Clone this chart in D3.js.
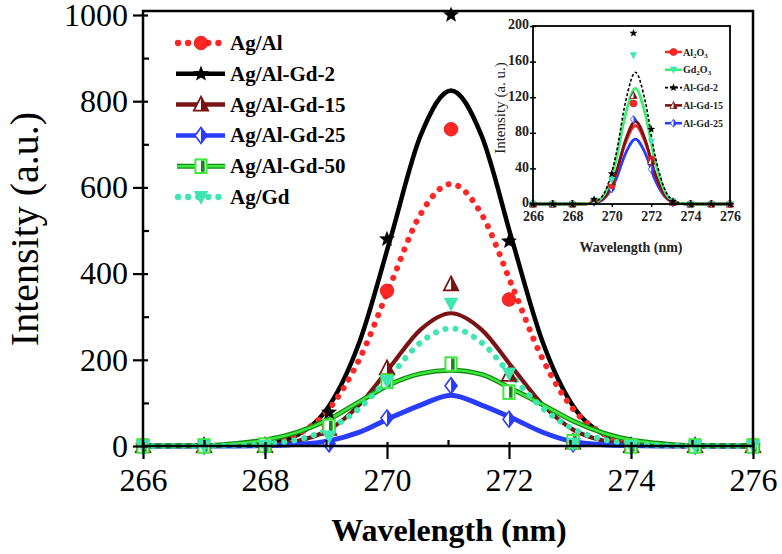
<!DOCTYPE html>
<html><head><meta charset="utf-8">
<script src="https://cdn.jsdelivr.net/npm/d3@7"></script>
<style>body{margin:0;background:#fff} svg{display:block}</style>
</head><body><svg id="c" width="782" height="554"></svg>
<script>
// ---------- main chart data ----------
const seriesNames = ["Ag/Al", "Ag/Al-Gd-2", "Ag/Al-Gd-15", "Ag/Al-Gd-25", "Ag/Al-Gd-50", "Ag/Gd"];
const markerX = [266, 267, 268, 269.05, 270, 271.05, 272, 273.05, 274, 275.05, 276];
const agAlPts   = [0, 0, 0, 45, 360, 735, 340, 12, 0, 0, 0];
const gd2Pts    = [0, 0, 0, 78, 480, 1000, 475, 12, 0, 0, 0];
const gd15Pts   = [0, 0, 0, 40, 180, 375, 165, 8, 0, 0, 0];
const gd25Pts   = [0, 0, 0, 5, 65, 140, 62, 5, 0, 0, 0];
const gd50Pts   = [0, 0, 2, 45, 150, 190, 125, 10, 0, 0, 0];
const agGdPts   = [0, 0, 0, 22, 150, 330, 168, 5, 0, 0, 0];

const curveX    = [266, 267, 267.55, 268.05, 268.55, 269.05, 269.55, 270.05, 270.55, 271.05, 271.55, 272.05, 272.55, 273.05, 273.55, 274.05, 274.55, 275, 276];
const agAlFit   = [0, 0, 1.5, 7, 28, 86, 202, 372, 538, 608, 538, 372, 202, 86, 28, 7, 1.5, 0, 0];
const gd2Fit    = [0, 0, 1, 6, 27, 93, 242, 478, 720, 825, 720, 478, 242, 93, 27, 6, 1, 0, 0];
const gd15Fit   = [0, 0, 0.6, 3, 12, 38, 96, 183, 270, 308, 270, 183, 96, 38, 12, 3, 0.6, 0, 0];
const gd25Fit   = [0, 0, 0, 1, 4, 12, 32, 65, 95, 118, 95, 65, 32, 10, 3, 1, 0, 0, 0];
const gd50Fit   = [0, 1, 6, 15, 33, 62, 103, 143, 168, 176, 166, 132, 96, 58, 30, 13, 5, 1, 0];
const agGdFit   = [0, 0, 1, 5, 15, 40, 88, 162, 240, 273, 240, 162, 88, 40, 15, 5, 1, 0, 0];

const xTicks = [266, 268, 270, 272, 274, 276];
const xMinor = [267, 269, 271, 273, 275];
const yTicks = [0, 200, 400, 600, 800, 1000];
const yMinor = [100, 300, 500, 700, 900];

// ---------- inset data ----------
const insetNames = ["Al2O3", "Gd2O3", "Al-Gd-2", "Al-Gd-15", "Al-Gd-25"];
const insetMarkerX = [266, 267, 268, 269.1, 270, 271.1, 272, 273.1, 274, 275.05, 276];
const al2o3Pts  = [0, 0, 0, 3, 21, 113, 50, 2, 0, 0, 0];
const gd2o3Pts  = [0, 0, 0, 4, 27, 167, 70, 3, 0, 0, 0];
const alGd2Pts  = [0, 0, 0, 5, 34, 192, 84, 3, 0, 0, 0];
const alGd15Pts = [0, 0, 0, 3, 25, 122, 48, 2, 0, 0, 0];
const alGd25Pts = [0, 0, 0, 2, 17, 95, 39, 1, 0, 0, 0];
const insetCurveX = [266, 267, 268, 268.7, 269.2, 269.7, 270.2, 270.7, 271.2, 271.7, 272.2, 272.7, 273.2, 273.7, 274.2, 275, 276];
const al2o3Fit  = [0, 0, 0, 0.2, 2, 9, 33, 69, 88, 69, 33, 9, 2, 0.2, 0, 0, 0];
const gd2o3Fit  = [0, 0, 0, 0.3, 2.5, 14, 48, 101, 130, 101, 48, 14, 2.5, 0.3, 0, 0, 0];
const alGd2Fit  = [0, 0, 0, 0.3, 3, 16, 54, 115, 148, 115, 54, 16, 3, 0.3, 0, 0, 0];
const alGd15Fit = [0, 0, 0, 0.2, 2, 10, 34, 72, 93, 72, 34, 10, 2, 0.2, 0, 0, 0];
const alGd25Fit = [0, 0, 0, 0.2, 1.5, 8, 27, 57, 73, 57, 27, 8, 1.5, 0.2, 0, 0, 0];
const insetXTicks = [266, 268, 270, 272, 274, 276];
const insetYTicks = [0, 40, 80, 120, 160, 200];

// ---------- styles ----------
const RED = "#ff2626", BLACK = "#000", DRED = "#7a1414", BLUE = "#2a3cff", GREEN = "#3fe83f", DGREEN = "#138a13", TEAL = "#3ee6b0";
const SERIF = "'Liberation Serif','Times New Roman',serif";

const svg = d3.select("#c");

function starPath(R, r) {
  const p = [];
  for (let i = 0; i < 10; i++) {
    const a = -Math.PI / 2 + i * Math.PI / 5;
    const rr = i % 2 === 0 ? R : r;
    p.push([rr * Math.cos(a), rr * Math.sin(a)]);
  }
  return "M" + p.map(q => q[0].toFixed(2) + "," + q[1].toFixed(2)).join("L") + "Z";
}

function marker(g, type, cx, cy, s, col) {
  const m = g.append("g").attr("transform", `translate(${cx},${cy})`);
  if (type === "circle") {
    m.append("circle").attr("r", s * 0.85).attr("fill", col).attr("stroke", "#e01010").attr("stroke-width", 0.8);
  } else if (type === "star") {
    m.append("path").attr("d", starPath(s * 1.05, s * 0.45)).attr("fill", col);
  } else if (type === "triUp") {
    m.append("path").attr("d", `M0,${-s}L${s * 0.9},${s * 0.75}L${-s * 0.9},${s * 0.75}Z`).attr("fill", "#fff").attr("stroke", col).attr("stroke-width", s * 0.22);
    m.append("path").attr("d", `M0,${-s}L${s * 0.9},${s * 0.75}L0,${s * 0.75}Z`).attr("fill", col);
  } else if (type === "diamond") {
    m.append("path").attr("d", `M0,${-s}L${s * 0.75},0L0,${s}L${-s * 0.75},0Z`).attr("fill", "#fff").attr("stroke", col).attr("stroke-width", s * 0.2);
    m.append("path").attr("d", `M0,${-s}L${s * 0.75},0L0,${s}Z`).attr("fill", col);
  } else if (type === "square") {
    m.append("rect").attr("x", -s * 0.7).attr("y", -s * 0.85).attr("width", s * 1.4).attr("height", s * 1.7).attr("fill", "#fff").attr("stroke", GREEN).attr("stroke-width", s * 0.25);
    m.append("rect").attr("x", 0).attr("y", -s * 0.7).attr("width", s * 0.45).attr("height", s * 1.4).attr("fill", DGREEN);
  } else if (type === "triDown") {
    m.append("path").attr("d", `M${-s * 0.9},${-s * 0.75}L${s * 0.9},${-s * 0.75}L0,${s}Z`).attr("fill", col);
  }
}

// ---------- main chart ----------
const x = d3.scaleLinear().domain([266, 276]).range([143, 753]);
const y = d3.scaleLinear().domain([0, 1000]).range([446, 15]);

const mainSeries = [
  { name: seriesNames[1], pts: gd2Pts, fit: gd2Fit, col: BLACK, mk: "star" },
  { name: seriesNames[0], pts: agAlPts, fit: agAlFit, col: RED, mk: "circle", dotted: true },
  { name: seriesNames[2], pts: gd15Pts, fit: gd15Fit, col: DRED, mk: "triUp" },
  { name: seriesNames[3], pts: gd25Pts, fit: gd25Fit, col: BLUE, mk: "diamond" },
  { name: seriesNames[4], pts: gd50Pts, fit: gd50Fit, col: GREEN, mk: "square", double: true },
  { name: seriesNames[5], pts: agGdPts, fit: agGdFit, col: TEAL, mk: "triDown", dotted: true }
];

const line = d3.line().x(d => x(d[0])).y(d => y(d[1])).curve(d3.curveMonotoneX);
const plot = svg.append("g");

function styleLine(p, s, w) {
  if (s.dotted) {
    p.attr("stroke", s.col).attr("stroke-width", w + 1.8).attr("stroke-linecap", "round").attr("stroke-dasharray", "0.1,10");
  } else {
    p.attr("stroke", s.col).attr("stroke-width", w);
  }
}

mainSeries.forEach(s => {
  const data = curveX.map((v, i) => [v, s.fit[i]]);
  if (s.double) {
    plot.append("path").datum(data).attr("d", line).attr("fill", "none").attr("stroke", DGREEN).attr("stroke-width", 5);
    plot.append("path").datum(data).attr("d", line).attr("fill", "none").attr("stroke", GREEN).attr("stroke-width", 2.4);
  } else {
    const p = plot.append("path").datum(data).attr("d", line).attr("fill", "none");
    styleLine(p, s, s.col === BLACK ? 4.5 : (s.col === BLUE ? 5 : 4.2));
  }
});

mainSeries.forEach(s => {
  markerX.forEach((v, i) => marker(plot, s.mk, x(v), y(s.pts[i]), 8, s.col));
});

// frame
svg.append("rect").attr("x", 143).attr("y", 11).attr("width", 610).attr("height", 435)
  .attr("fill", "none").attr("stroke", "#000").attr("stroke-width", 2.5);

// axes
const gy = svg.append("g").attr("transform", "translate(143,0)")
  .call(d3.axisLeft(y).tickValues(yTicks).tickSizeInner(10).tickSizeOuter(0).tickPadding(5).tickFormat(d3.format("d")));
const gyMinor = svg.append("g").attr("transform", "translate(143,0)")
  .call(d3.axisRight(y).tickValues(yMinor).tickSizeInner(6).tickSizeOuter(0).tickFormat(""));
const gyMaj2 = svg.append("g").attr("transform", "translate(143,0)")
  .call(d3.axisRight(y).tickValues(yTicks).tickSizeInner(5).tickSizeOuter(0).tickFormat(""));
const gx = svg.append("g").attr("transform", "translate(0,446)")
  .call(d3.axisBottom(x).tickValues(xTicks).tickSizeInner(13).tickSizeOuter(0).tickPadding(9).tickFormat(d3.format("d")));
const gxMinor = svg.append("g").attr("transform", "translate(0,446)")
  .call(d3.axisTop(x).tickValues(xMinor).tickSizeInner(6).tickSizeOuter(0).tickFormat(""));
const gxMaj2 = svg.append("g").attr("transform", "translate(0,446)")
  .call(d3.axisTop(x).tickValues(xTicks).tickSizeInner(4).tickSizeOuter(0).tickFormat(""));
[gy, gyMinor, gyMaj2, gx, gxMinor, gxMaj2].forEach(g => {
  g.select(".domain").remove();
  g.selectAll("line").attr("stroke", "#000").attr("stroke-width", 2.2);
  g.selectAll("text").attr("font-family", SERIF).attr("font-size", 32).attr("fill", "#000");
});

// axis titles
svg.append("text").attr("transform", "translate(38,229) rotate(-90)").attr("text-anchor", "middle")
  .attr("font-family", SERIF).attr("font-size", 40).text("Intensity (a.u.)");
svg.append("text").attr("x", 449).attr("y", 541).attr("text-anchor", "middle")
  .attr("font-family", SERIF).attr("font-weight", "bold").attr("font-size", 32).text("Wavelength (nm)");

// legend
const legendOrder = [
  { name: seriesNames[0], col: RED, mk: "circle", dotted: true },
  { name: seriesNames[1], col: BLACK, mk: "star" },
  { name: seriesNames[2], col: DRED, mk: "triUp" },
  { name: seriesNames[3], col: BLUE, mk: "diamond" },
  { name: seriesNames[4], col: GREEN, mk: "square", double: true },
  { name: seriesNames[5], col: TEAL, mk: "triDown", dotted: true }
];
const leg = svg.append("g");
legendOrder.forEach((s, i) => {
  const cy = 43 + i * 30.8;
  if (s.double) {
    leg.append("line").attr("x1", 177).attr("x2", 225).attr("y1", cy).attr("y2", cy).attr("stroke", DGREEN).attr("stroke-width", 5);
    leg.append("line").attr("x1", 177).attr("x2", 225).attr("y1", cy).attr("y2", cy).attr("stroke", GREEN).attr("stroke-width", 2.4);
  } else {
    const p = leg.append("line").attr("x1", s.dotted ? 178 : 176).attr("x2", 225).attr("y1", cy).attr("y2", cy);
    styleLine(p, s, 4.5);
  }
  marker(leg, s.mk, 201, cy, 8, s.col);
  leg.append("text").attr("x", 230).attr("y", cy + 7).attr("font-family", SERIF).attr("font-weight", "bold")
    .attr("font-size", 21).text(s.name);
});

// ---------- inset ----------
const ix = d3.scaleLinear().domain([266, 276]).range([533, 730]);
const iy = d3.scaleLinear().domain([0, 200]).range([204, 26]);
const iline = d3.line().x(d => ix(d[0])).y(d => iy(d[1])).curve(d3.curveMonotoneX);
const ins = svg.append("g");

const insetSeries = [
  { name: insetNames[4], pts: alGd25Pts, fit: alGd25Fit, col: BLUE, mk: "diamond" },
  { name: insetNames[0], pts: al2o3Pts, fit: al2o3Fit, col: RED, mk: "circle" },
  { name: insetNames[3], pts: alGd15Pts, fit: alGd15Fit, col: DRED, mk: "triUp" },
  { name: insetNames[1], pts: gd2o3Pts, fit: gd2o3Fit, col: "#3aee70", mcol: TEAL, mk: "triDown" },
  { name: insetNames[2], pts: alGd2Pts, fit: alGd2Fit, col: BLACK, mk: "star", dash: true }
];
insetSeries.forEach(s => {
  const data = insetCurveX.map((v, i) => [v, s.fit[i]]);
  const p = ins.append("path").datum(data).attr("d", iline).attr("fill", "none").attr("stroke", s.col)
    .attr("stroke-width", s.dash ? 1.6 : 2.8);
  if (s.dash) p.attr("stroke-dasharray", "3,2");
});
insetSeries.forEach(s => {
  insetMarkerX.forEach((v, i) => marker(ins, s.mk, ix(v), iy(s.pts[i]), 4, s.mcol || s.col));
});

ins.append("rect").attr("x", 533).attr("y", 26).attr("width", 197).attr("height", 178)
  .attr("fill", "none").attr("stroke", "#000").attr("stroke-width", 1.8);

const igx = ins.append("g").attr("transform", "translate(0,204)")
  .call(d3.axisBottom(ix).tickValues(insetXTicks).tickSizeInner(3).tickSizeOuter(0).tickPadding(4).tickFormat(d3.format("d")));
const igy = ins.append("g").attr("transform", "translate(533,0)")
  .call(d3.axisLeft(iy).tickValues(insetYTicks).tickSizeInner(3).tickSizeOuter(0).tickPadding(1).tickFormat(d3.format("d")));
const igy2 = ins.append("g").attr("transform", "translate(533,0)")
  .call(d3.axisRight(iy).tickValues(insetYTicks).tickSizeInner(3).tickSizeOuter(0).tickFormat(""));
[igx, igy, igy2].forEach(g => {
  g.select(".domain").remove();
  g.selectAll("line").attr("stroke", "#000").attr("stroke-width", 1.5);
  g.selectAll("text").attr("font-family", SERIF).attr("font-size", 14).attr("font-weight", "bold").attr("fill", "#222");
});
igy.selectAll("text").attr("dy", "0.2em");

ins.append("text").attr("transform", "translate(505,108) rotate(-90)").attr("text-anchor", "middle")
  .attr("font-family", SERIF).attr("font-size", 15).attr("fill", "#222").text("Intensity (a. u.)");
ins.append("text").attr("x", 631).attr("y", 252).attr("text-anchor", "middle")
  .attr("font-family", SERIF).attr("font-weight", "bold").attr("font-size", 14).attr("fill", "#222").text("Wavelength (nm)");

// inset legend
const insetLegend = [
  { col: RED, mk: "circle", label: ["Al", "2", "O", "3"] },
  { col: "#3aee70", mcol: TEAL, mk: "triDown", label: ["Gd", "2", "O", "3"] },
  { col: BLACK, mk: "star", dash: true, label: ["Al-Gd-2"] },
  { col: DRED, mk: "triUp", label: ["Al-Gd-15"] },
  { col: BLUE, mk: "diamond", label: ["Al-Gd-25"] }
];
insetLegend.forEach((s, i) => {
  const cy = 52 + i * 17.8;
  const l = ins.append("line").attr("x1", 665).attr("x2", 682).attr("y1", cy).attr("y2", cy)
    .attr("stroke", s.col).attr("stroke-width", s.dash ? 1.6 : 2.6);
  if (s.dash) l.attr("stroke-dasharray", "3,2");
  marker(ins, s.mk, 673.5, cy, 4, s.mcol || s.col);
  const t = ins.append("text").attr("x", 683).attr("y", cy + 3.5).attr("font-family", SERIF)
    .attr("font-weight", "bold").attr("font-size", 10).attr("fill", "#222");
  s.label.forEach((part, k) => {
    const sub = s.label.length > 1 && k % 2 === 1;
    t.append("tspan").attr("font-size", sub ? 7 : 10).attr("dy", sub ? 2 : (k > 0 ? -2 : 0)).text(part);
  });
});
</script></body></html>
